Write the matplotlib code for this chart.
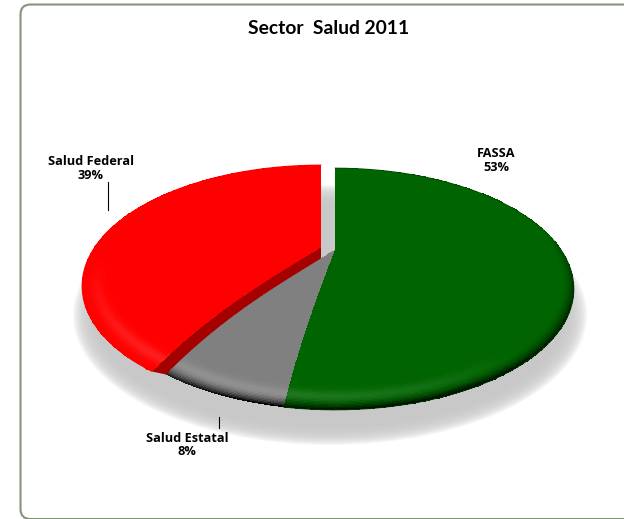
import numpy as np
import matplotlib
matplotlib.use("Agg")
import matplotlib.pyplot as plt
from matplotlib.patches import Ellipse, FancyBboxPatch, Polygon, Rectangle

# Sector Salud 2011
categories = ["FASSA", "Salud Estatal", "Salud Federal"]
shares = [53, 8, 39]
colors = ["#006400", "#808080", "#ff0000"]
rim_dark = [0.95, 1.25, 0.0]

# pie geometry in pixels: tilted view plus a slight dome
cx, cy = 335, 272
ax_x, ax_y = 236.6, 118.6
persp = 0.1405
dome = 22
explode = [(0, 0), (0, 0), (-14, -3)]


def project(r, theta, off=(0, 0)):
    # theta is clockwise from twelve o'clock
    u = r * np.sin(theta)
    v = r * np.cos(theta)
    w = 1 + persp * v
    x = cx + ax_x * u / w + off[0]
    y = cy - ax_y * v / w - dome * (1 - r ** 3.5) + off[1]
    return x, y


def shade(base, r, theta, strength):
    base = np.array(matplotlib.colors.to_rgb(base))
    u, v = np.sin(theta), np.cos(theta)
    p = np.clip((r - 0.945) / 0.055, 0, 1)
    away = np.clip(0.3 * u - 0.95 * v, 0, 1)
    dark = p ** 2.2 * away ** 0.7 * strength
    low = np.clip(-0.4 * u - 0.9 * v - 0.35, 0, 1)
    glow = np.exp(-((r - 0.94) / 0.025) ** 2) * low * 0.2
    out = base[None, None, :] * np.clip(1 - dark, 0, 1)[..., None]
    out = out + glow[..., None] * (1 - out)
    return np.clip(out, 0, 1)


fig = plt.figure(figsize=(6.24, 5.19), dpi=100)
ax = fig.add_axes([0, 0, 1, 1])
ax.set_xlim(0, 624)
ax.set_ylim(519, 0)
ax.axis("off")

# chart frame
ax.add_patch(FancyBboxPatch((20.5, 4.5), 640, 514.5, boxstyle="round,pad=0,rounding_size=10",
                            fc="white", ec="#84947a", lw=1.5))

# soft shadow under the pie
for i in range(16):
    ax.add_patch(Ellipse((330, 315), 2 * (257 - i * 1.5), 2 * (130 - i * 1.2),
                         fc="#c8c8c8", ec="none", alpha=0.16, zorder=1))

edges = np.cumsum([0] + shares) / sum(shares) * 2 * np.pi
z = {0: 3, 1: 2, 2: 5}

for i, name in enumerate(categories):
    th = np.linspace(edges[i], edges[i + 1], 240)
    rr = np.linspace(0, 1, 161)
    rg, tg = np.meshgrid(rr, th)
    xs, ys = project(rg, tg, explode[i])
    rm = 0.5 * (rg[:-1, :-1] + rg[1:, 1:])
    tm = 0.5 * (tg[:-1, :-1] + tg[1:, 1:])
    ax.pcolormesh(xs, ys, shade(colors[i], rm, tm, rim_dark[i]), shading="flat",
                  antialiased=False, rasterized=True, zorder=z[i])
    # outline so the rim is not jagged
    if i == 0:
        ax.plot(xs[:, -1], ys[:, -1], color="#004000", lw=0.5, zorder=z[i])
    if i == 2:
        ax.plot(xs[:, -1], ys[:, -1], color="#ff0000", lw=0.6, zorder=z[i])

# side wall of the pulled out slice
rr = np.linspace(0, 1, 80)
red_edge = project(rr, np.full(80, edges[2]), explode[2])
gray_edge = project(rr, np.full(80, edges[2]))
wall = np.column_stack([np.concatenate([red_edge[0], gray_edge[0][::-1]]),
                        np.concatenate([red_edge[1], gray_edge[1][::-1]])])
wp = ax.add_patch(Polygon(wall, closed=True, fc="#a40000", ec="none", zorder=4))
wp.set_clip_path(Rectangle((0, 0), 321, 519, transform=ax.transData))

# labels and leader lines
ax.text(328.5, 28, "Sector  Salud 2011", ha="center", va="center", fontsize=13.9,
        fontweight="bold", family="Lato", color="black", zorder=6)
pos = [(496, 160.5), (187, 445), (91, 168.5)]
for name, val, (x, y) in zip(categories, shares, pos):
    ax.text(x, y, f"{name}\n{val}%", ha="center", va="center", fontsize=9.2,
            fontweight="bold", family="Open Sans", linespacing=1.02, color="black", zorder=6)
ax.plot([108, 108], [182, 210], color="black", lw=0.8, zorder=6)
ax.plot([219, 219], [417, 428], color="black", lw=0.8, zorder=6)

fig.savefig("out.png", dpi=100)
